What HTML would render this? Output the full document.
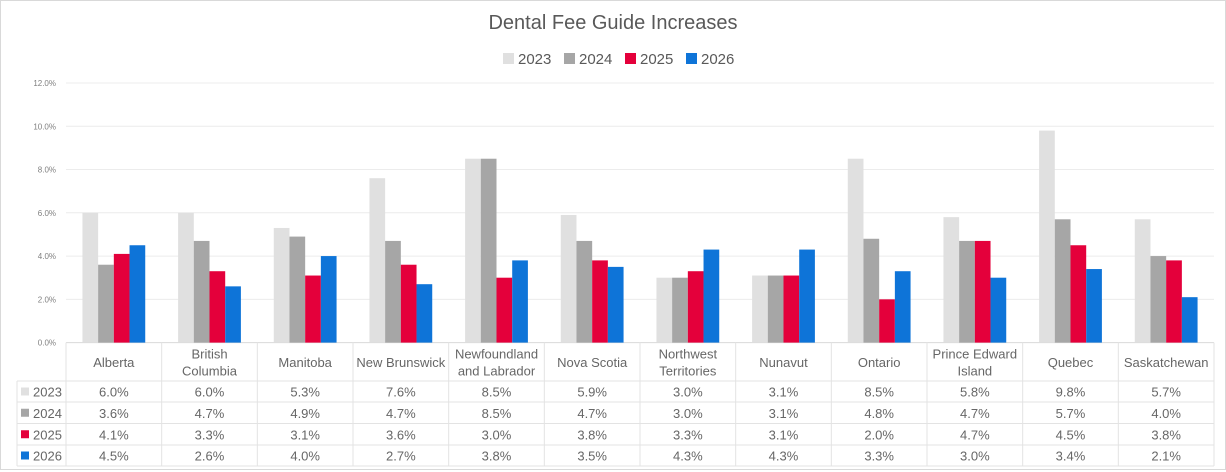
<!DOCTYPE html>
<html><head><meta charset="utf-8"><style>
html,body{margin:0;padding:0;background:#fff;}
svg{display:block;font-family:"Liberation Sans",sans-serif;}
</style></head><body>
<svg id="c" width="1226" height="472">
<rect x="0.5" y="0.5" width="1225" height="469" fill="#fff" stroke="#d9d9d9"/>
<text x="613" y="29" text-anchor="middle" font-size="20" fill="#595959">Dental Fee Guide Increases</text>
</svg>
<script>
const categories=["Alberta","British Columbia","Manitoba","New Brunswick","Newfoundland and Labrador","Nova Scotia","Northwest Territories","Nunavut","Ontario","Prince Edward Island","Quebec","Saskatchewan"];
const catLines=[["Alberta"],["British","Columbia"],["Manitoba"],["New Brunswick"],["Newfoundland","and Labrador"],["Nova Scotia"],["Northwest","Territories"],["Nunavut"],["Ontario"],["Prince Edward","Island"],["Quebec"],["Saskatchewan"]];
const seriesNames=["2023","2024","2025","2026"];
const s2023=[6.0,6.0,5.3,7.6,8.5,5.9,3.0,3.1,8.5,5.8,9.8,5.7];
const s2024=[3.6,4.7,4.9,4.7,8.5,4.7,3.0,3.1,4.8,4.7,5.7,4.0];
const s2025=[4.1,3.3,3.1,3.6,3.0,3.8,3.3,3.1,2.0,4.7,4.5,3.8];
const s2026=[4.5,2.6,4.0,2.7,3.8,3.5,4.3,4.3,3.3,3.0,3.4,2.1];
const yTicks=[0,2,4,6,8,10,12];
const colors=["#e0e0e0","#a6a6a6","#e4003b","#0e74d8"];
const series=[s2023,s2024,s2025,s2026];
const svg=document.getElementById('c');const NS="http://www.w3.org/2000/svg";
function el(t,a,txt){const e=document.createElementNS(NS,t);for(const k in a)e.setAttribute(k,a[k]);if(txt!=null)e.textContent=txt;svg.appendChild(e);return e;}
const X0=66,X1=1214,Y0=342.6,Y12=83;
const cw=(X1-X0)/categories.length;
function y(v){return Y0-(v/12)*(Y0-Y12);}
function xc(i){return X0+cw*i;}
yTicks.forEach(t=>{
 const g=el('line',{x1:X0,x2:X1,y1:y(t),y2:y(t),stroke:t===0?'#d9d9d9':'#ececec','stroke-width':1});
 
 
 const l=el('text',{x:56,y:y(t)+3,'text-anchor':'end','font-size':8,fill:'#7f7f7f'},t.toFixed(1)+'%');
 
 
});
const lgX=[503,564,625,686];
seriesNames.forEach((n,k)=>{
 const r=el('rect',{x:lgX[k],y:53,width:11,height:11,fill:colors[k]});
 
 
 const t=el('text',{x:lgX[k]+15,y:64,'font-size':15,fill:'#595959'},n);
 
 
});
const bw=15.7;
categories.forEach((c,i)=>{
 const start=xc(i)+(cw-4*bw)/2;
 series.forEach((s,k)=>{
  const b=el('rect',{x:start+k*bw,y:y(s[i]),width:bw,height:Y0-y(s[i]),fill:colors[k]});
  
  
 });
});
const rowY=[342.6,381,402,423.5,445,466];
const tc='#e3e3e3';
for(let i=0;i<=categories.length;i++){
 const v=el('line',{x1:xc(i),x2:xc(i),y1:Y0,y2:466,stroke:tc});
 
 
}
const lv=el('line',{x1:17,x2:17,y1:381,y2:466,stroke:tc});


for(let r=1;r<rowY.length;r++){
 const h=el('line',{x1:17,x2:X1,y1:rowY[r],y2:rowY[r],stroke:tc});
 
 
}
categories.forEach((c,i)=>{
 const lines=catLines[i];const cx=xc(i)+cw/2;
 const mid=(rowY[0]+rowY[1])/2;
 lines.forEach((ln,j)=>{
  const t=el('text',{x:cx,y:mid+5+(j-(lines.length-1)/2)*17,'text-anchor':'middle','font-size':13,fill:'#666'},ln);
  
  
 });
 series.forEach((s,k)=>{
  const t=el('text',{x:cx,y:(rowY[k+1]+rowY[k+2])/2+5,'text-anchor':'middle','font-size':13,fill:'#666'},s[i].toFixed(1)+'%');
  
  
 });
});
seriesNames.forEach((n,k)=>{
 const cy=(rowY[k+1]+rowY[k+2])/2;
 const r=el('rect',{x:21,y:cy-4,width:8,height:8,fill:colors[k]});
 
 
 const t=el('text',{x:33,y:cy+5,'font-size':13,fill:'#666'},n);
 
 
});
</script>
</body></html>
